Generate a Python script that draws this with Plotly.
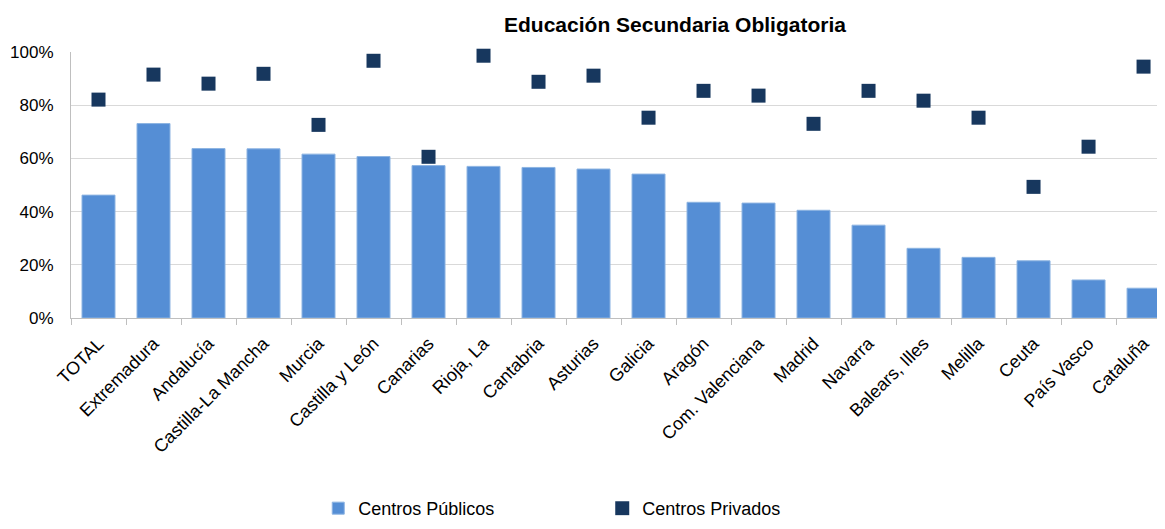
import plotly.graph_objects as go

categories = ["TOTAL", "Extremadura", "Andalucía", "Castilla-La Mancha", "Murcia",
              "Castilla y León", "Canarias", "Rioja, La", "Cantabria", "Asturias",
              "Galicia", "Aragón", "Com. Valenciana", "Madrid", "Navarra",
              "Balears, Illes", "Melilla", "Ceuta", "País Vasco", "Cataluña"]
publicos = [46.2, 73.1, 63.7, 63.6, 61.6, 60.7, 57.3, 57.0, 56.6, 56.0,
            54.1, 43.5, 43.2, 40.5, 34.9, 26.2, 22.8, 21.5, 14.3, 11.2]
privados = [82.1, 91.5, 88.1, 91.8, 72.6, 96.7, 60.6, 98.6, 88.8, 91.1,
            75.3, 85.4, 83.6, 73.0, 85.4, 81.7, 75.3, 49.3, 64.4, 94.5]
y_ticks = [0, 20, 40, 60, 80, 100]
y_tick_labels = ["0%", "20%", "40%", "60%", "80%", "100%"]

FONT = "Liberation Sans, Arial, sans-serif"
W, H = 1157, 521  # page body has an 8px margin; figure fills the rest of the window

fig = go.Figure()
fig.add_trace(go.Bar(
    x=categories, y=publicos, name="Centros Públicos",
    marker=dict(color="#558ED5", line=dict(color="#8DB4E2", width=1)),
    width=0.6,
))
fig.add_trace(go.Scatter(
    x=categories, y=privados, name="Centros Privados", mode="markers",
    marker=dict(symbol="square", size=14, color="#17375E"),
    cliponaxis=False,
))

fig.update_layout(
    width=W, height=H,
    paper_bgcolor="white", plot_bgcolor="white",
    margin=dict(l=63, r=0, t=44, b=211, autoexpand=False),
    font=dict(family=FONT, size=18, color="#000000"),
    title=dict(text="<b>Educación Secundaria Obligatoria</b>",
               x=667 / W, xref="container", xanchor="center",
               y=1 - 17 / H, yref="container", yanchor="middle",
               automargin=False,
               font=dict(family=FONT, size=21, color="#000000")),
    showlegend=True,
    legend=dict(orientation="h", x=0.226, xanchor="left", y=-0.716, yanchor="middle",
                entrywidth=239, entrywidthmode="pixels",
                font=dict(family=FONT, size=18, color="#000000"),
                itemwidth=30, bgcolor="rgba(0,0,0,0)"),
    bargap=0.4,
)
fig.update_xaxes(
    type="category", range=[-0.5, 19.39], automargin=False,
    tickangle=-45, tickson="boundaries", ticks="outside", ticklen=6,
    tickcolor="#BFBFBF", showline=True, linecolor="#BFBFBF", linewidth=1,
    showgrid=False, ticklabelstandoff=7,
    tickfont=dict(family=FONT, size=18, color="#000000"),
)
fig.update_yaxes(
    range=[0, 100], tickvals=y_ticks, ticktext=y_tick_labels, automargin=False,
    showgrid=True, gridcolor="#D9D9D9", gridwidth=1,
    showline=True, linecolor="#BFBFBF", linewidth=1, ticks="",
    ticklabelstandoff=13, zeroline=False,
    tickfont=dict(family=FONT, size=17, color="#000000"),
)

fig.write_html("out.html")
